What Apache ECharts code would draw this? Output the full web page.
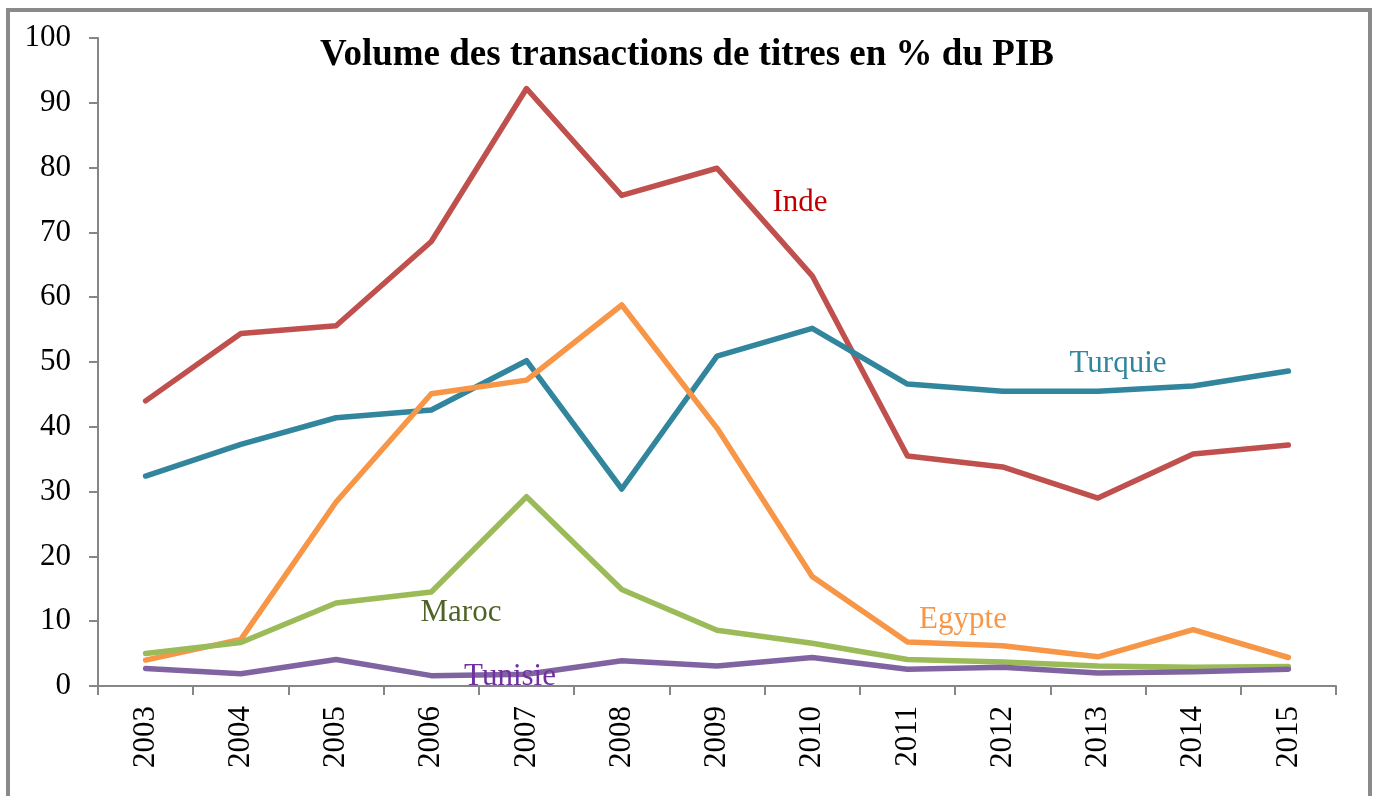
<!DOCTYPE html>
<html>
    <head>
        <meta charset="utf-8">
        <title>Volume des transactions</title>
        <style>
            body{
                margin:0;
                background-color:#FFFFFF;
            }
            #main{
                width:1374px;
                height:796px;
            }
            #frame{
                position:absolute;
                left:6px;
                top:8px;
                width:1358px;
                height:820px;
                border-top:4px solid #8a8a8a;
                border-left:4px solid #8a8a8a;
                border-right:4px solid #8a8a8a;
                pointer-events:none;
            }
        </style>
    </head>
    <body>
        <div id="main"></div>
        <div id="frame"></div>

    <script src="https://cdn.jsdelivr.net/npm/echarts@6/dist/echarts.min.js"></script>

    <script>
        var years = ["2003","2004","2005","2006","2007","2008","2009","2010","2011","2012","2013","2014","2015"];
        var inde    = [44.0, 54.4, 55.6, 68.6, 92.2, 75.7, 79.9, 63.3, 35.5, 33.8, 29.0, 35.8, 37.2];
        var turquie = [32.4, 37.3, 41.4, 42.6, 50.2, 30.4, 50.9, 55.2, 46.6, 45.5, 45.5, 46.3, 48.6];
        var egypte  = [4.0, 7.2, 28.4, 45.1, 47.2, 58.8, 39.8, 16.9, 6.8, 6.2, 4.5, 8.7, 4.4];
        var maroc   = [5.0, 6.7, 12.8, 14.5, 29.2, 14.9, 8.6, 6.6, 4.1, 3.7, 3.1, 2.9, 3.0];
        var tunisie = [2.7, 1.9, 4.1, 1.6, 1.8, 3.9, 3.1, 4.4, 2.6, 2.9, 2.0, 2.2, 2.6];

        var yTicks = [0, 10, 20, 30, 40, 50, 60, 70, 80, 90, 100];

        var serif = '"Liberation Serif", "Times New Roman", serif';
        var axisColor = '#868686';

        var myChart = echarts.init(document.getElementById('main'));

        function lineSerie(name, data, color){
            return {
                name: name,
                type: 'line',
                data: data,
                symbol: 'none',
                smooth: false,
                lineStyle: {width: 5.5, color: color, cap: 'round', join: 'round'},
                itemStyle: {color: color}
            };
        }

        // étiquettes des séries, centrées sur leur position dans l'original
        function label(text, x, y, color){
            return {
                type: 'text',
                x: x, y: y,
                z: 100,
                style: {
                    text: text,
                    fill: color,
                    font: '31px ' + serif,
                    align: 'center',
                    verticalAlign: 'middle'
                }
            };
        }

        var option = {
            animation: false,
            title: {
                text: 'Volume des transactions de titres en % du PIB',
                left: 'center',
                top: 32,
                textStyle: {
                    fontFamily: serif,
                    fontWeight: 'bold',
                    fontSize: 37,
                    color: '#000000'
                }
            },
            grid: {
                left: 98,
                right: 38,
                top: 38,
                bottom: 110
            },
            xAxis: {
                type: 'category',
                data: years,
                boundaryGap: true,
                axisLine: {lineStyle: {color: axisColor, width: 2}},
                axisTick: {show: true, length: 9, alignWithLabel: false, lineStyle: {color: axisColor, width: 2}},
                axisLabel: {
                    rotate: 90,
                    margin: 20,
                    color: '#000000',
                    fontFamily: serif,
                    fontSize: 31
                }
            },
            yAxis: {
                type: 'value',
                min: yTicks[0],
                max: yTicks[yTicks.length - 1],
                interval: 10,
                axisLine: {show: true, lineStyle: {color: axisColor, width: 2}},
                axisTick: {show: true, length: 9, lineStyle: {color: axisColor, width: 2}},
                splitLine: {show: false},
                axisLabel: {
                    margin: 27,
                    color: '#000000',
                    fontFamily: serif,
                    fontSize: 31
                }
            },
            series: [
                lineSerie('Inde', inde, '#C0504D'),
                lineSerie('Turquie', turquie, '#31859C'),
                lineSerie('Egypte', egypte, '#F79646'),
                lineSerie('Maroc', maroc, '#9BBB59'),
                lineSerie('Tunisie', tunisie, '#8064A2')
            ],
            graphic: [
                label('Inde', 800, 203, '#C00000'),
                label('Turquie', 1118, 364, '#31859C'),
                label('Egypte', 963, 620, '#F79646'),
                label('Maroc', 461, 613, '#4F6228'),
                label('Tunisie', 510, 677, '#7030A0')
            ]
        };

        myChart.setOption(option);
    </script>
    </body>
</html>
